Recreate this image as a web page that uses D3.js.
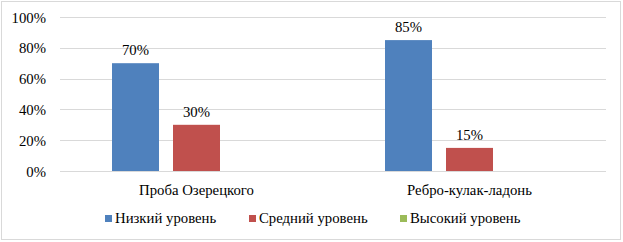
<!DOCTYPE html>
<html>
<head>
<meta charset="utf-8">
<script src="https://cdn.jsdelivr.net/npm/d3@7"></script>
<style>
  body { margin: 0; background: #fff; }
</style>
</head>
<body>
<div id="chart"></div>
<script>
const categories = ["Проба Озерецкого", "Ребро-кулак-ладонь"];
const seriesNames = ["Низкий уровень", "Средний уровень", "Высокий уровень"];
const lowValues = [70, 85];
const midValues = [30, 15];
const highValues = [0, 0];
const yTicks = [0, 20, 40, 60, 80, 100];

const colors = ["#4f81bd", "#c0504d", "#9bbb59"];
const FONT = "'Liberation Serif'";
const K = 1.23; // текст задаётся 12px и масштабируется
const W = 623, H = 242;
const margin = { top: 17, right: 17, bottom: 71, left: 60 };
const width = W - margin.left - margin.right;
const height = H - margin.top - margin.bottom;

const svgRoot = d3.select("#chart").append("svg")
  .attr("width", W).attr("height", H);

svgRoot.append("rect")
  .attr("x", 1.5).attr("y", 1.5)
  .attr("width", W - 4).attr("height", H - 4)
  .attr("fill", "#fff").attr("stroke", "#d9d9d9");

const svg = svgRoot.append("g")
  .attr("transform", `translate(${margin.left},${margin.top})`);

function label(sel, x, y) {
  return sel.append("text")
    .attr("transform", `translate(${x},${y}) scale(${K})`)
    .attr("font-family", FONT)
    .attr("font-size", 12)
    .attr("fill", "#000");
}

const x0 = d3.scaleBand().domain(categories).range([0, width]).paddingInner(0).paddingOuter(0);
const x1 = d3.scaleBand().domain(seriesNames).range([0, 169]).paddingInner(14 / 61);
const y = d3.scaleLinear().domain([0, 100]).range([height, 0]);

// сетка
svg.append("g").selectAll("line")
  .data(yTicks)
  .enter().append("line")
  .attr("x1", 0).attr("x2", width)
  .attr("y1", d => Math.round(y(d)) + 0.5).attr("y2", d => Math.round(y(d)) + 0.5)
  .attr("stroke", "#d9d9d9").attr("stroke-width", 1);

const yAxis = svg.append("g")
  .call(d3.axisLeft(y).tickValues(yTicks).tickFormat(d => d + "%").tickSize(0).tickPadding(14));
yAxis.select(".domain").remove();
yAxis.selectAll("text")
  .attr("x", null).attr("dy", null)
  .attr("transform", `translate(-14,5) scale(${K})`)
  .attr("font-family", FONT)
  .attr("font-size", 12)
  .attr("fill", "#000");

const table = categories.map((c, i) => ({
  cat: c,
  vals: [lowValues[i], midValues[i], highValues[i]].map((v, j) => ({ name: seriesNames[j], value: v, idx: j }))
}));

const groups = svg.selectAll(".grp")
  .data(table)
  .enter().append("g")
  .attr("class", "grp")
  .attr("transform", d => `translate(${x0(d.cat) + x0.bandwidth() / 2 - 84.5},0)`);

groups.selectAll("rect")
  .data(d => d.vals)
  .enter().append("rect")
  .attr("x", d => x1(d.name))
  .attr("y", d => y(d.value))
  .attr("width", x1.bandwidth())
  .attr("height", d => height - y(d.value))
  .attr("fill", d => colors[d.idx]);

groups.each(function(g) {
  g.vals.filter(v => v.value > 0).forEach(v => {
    label(d3.select(this), x1(v.name) + x1.bandwidth() / 2, y(v.value) - 8)
      .attr("text-anchor", "middle")
      .text(v.value + "%");
  });
});

// подписи категорий
categories.forEach(c => {
  label(svg, x0(c) + x0.bandwidth() / 2, height + 24)
    .attr("text-anchor", "middle")
    .text(c);
});

// легенда
const legendX = [105, 249, 400];
const legend = svgRoot.append("g").attr("transform", "translate(0,215)");
seriesNames.forEach((name, i) => {
  legend.append("rect")
    .attr("x", legendX[i]).attr("width", 7).attr("height", 7)
    .attr("fill", colors[i]);
  label(legend, legendX[i] + 10, 8).text(name);
});
</script>
</body>
</html>
